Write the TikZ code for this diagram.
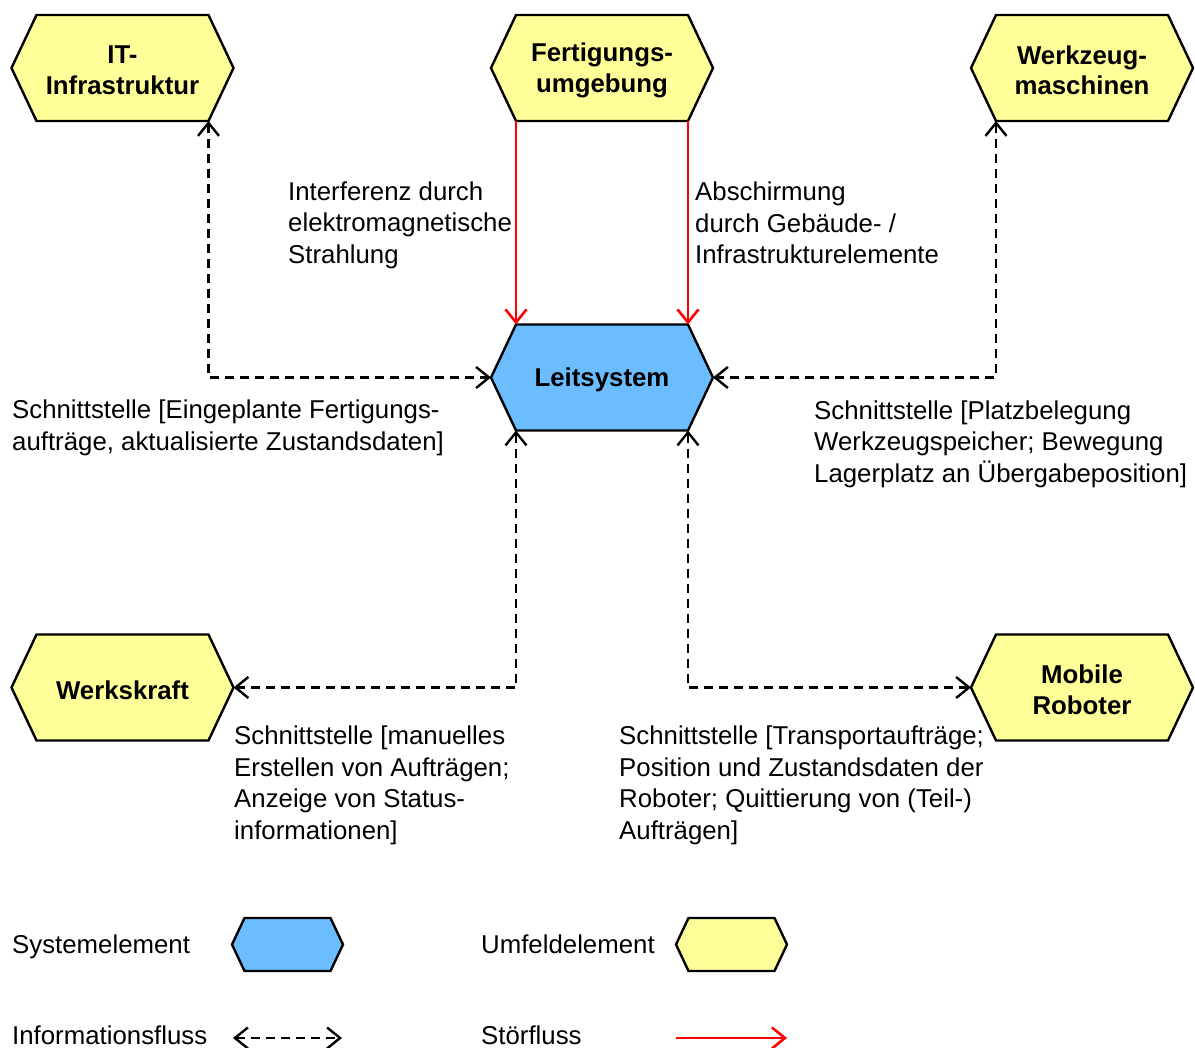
\documentclass[tikz,border=0pt]{standalone}
\usepackage{fontspec}
\setmainfont{Liberation Sans}
\usetikzlibrary{arrows.meta,calc}

\definecolor{sysblue}{RGB}{107,189,255}
\definecolor{envyellow}{RGB}{255,255,153}
\definecolor{flowred}{RGB}{255,0,0}

\tikzset{
  txt/.style={anchor=west, align=left, inner sep=0pt,
    font=\fontsize{25.8}{31.6}\selectfont},
  hexlabel/.style={align=center, inner sep=0pt, yshift=-2.5pt,
    font=\bfseries\fontsize{25.8}{30.5}\selectfont},
  hexborder/.style={draw=black, line width=2.4pt, line join=miter},
  info/.style={draw=black, line width=2.4pt, dash pattern=on 9pt off 6pt,
    {Straight Barb[length=13pt,width=21pt]}-{Straight Barb[length=13pt,width=21pt]}},
  stoer/.style={draw=flowred, line width=2.6pt,
    -{Straight Barb[length=13pt,width=21pt]}},
}

% hexagonal element: name, centre, half width, half height, inset, fill, label
\newcommand\hexelement[7]{%
  \coordinate (#1-w)  at ($(#2)+(-#3,0)$);
  \coordinate (#1-e)  at ($(#2)+(#3,0)$);
  \coordinate (#1-nw) at ($(#2)+(-#3+#5,-#4)$);
  \coordinate (#1-ne) at ($(#2)+(#3-#5,-#4)$);
  \coordinate (#1-sw) at ($(#2)+(-#3+#5,#4)$);
  \coordinate (#1-se) at ($(#2)+(#3-#5,#4)$);
  \draw[hexborder, fill=#6] (#1-nw) -- (#1-ne) -- (#1-e) -- (#1-se)
    -- (#1-sw) -- (#1-w) -- cycle;
  \node[hexlabel] (#1) at (#2) {#7};
}

\begin{document}
\begin{tikzpicture}[x=1pt, y=-1pt]
\useasboundingbox (0,0) rectangle (1195,1048);

% elements
\hexelement{IT}{122.5,68}{111}{53}{25}{envyellow}{IT-\\Infrastruktur}
\hexelement{FU}{602,68}{111}{53}{25}{envyellow}{Fertigungs-\\umgebung}
\hexelement{WZ}{1082,68}{111}{53}{25}{envyellow}{Werkzeug-\\maschinen}
\hexelement{LS}{602,377.5}{111}{53}{25}{sysblue}{Leitsystem}
\hexelement{WK}{122.5,687.5}{111}{53}{25}{envyellow}{Werkskraft}
\hexelement{MR}{1082,687.5}{111}{53}{25}{envyellow}{Mobile\\Roboter}

% information flows
\draw[info] (IT-se) |- (LS-w);
\draw[info] (WZ-sw) |- (LS-e);
\draw[info] (LS-sw) |- (WK-e);
\draw[info] (LS-se) |- (MR-w);

% disturbances
\draw[stoer] (FU-sw) -- (LS-nw);
\draw[stoer] (FU-se) -- (LS-ne);

% labels
\node[txt] (t1) at (288,225) {Interferenz durch\\elektromagnetische\\Strahlung};
\node[txt] (t2) at (695,223) {Abschirmung\\durch Gebäude- /\\Infrastrukturelemente};
\node[txt] (t3) at (12,428) {Schnittstelle [Eingeplante Fertigungs-\\aufträge, aktualisierte Zustandsdaten]};
\node[txt] (t4) at (814,444) {Schnittstelle [Platzbelegung\\Werkzeugspeicher; Bewegung\\Lagerplatz an Übergabeposition]};
\node[txt] (t5) at (234,785.5) {Schnittstelle [manuelles\\Erstellen von Aufträgen;\\Anzeige von Status-\\informationen]};
\node[txt] (t6) at (619,785.5) {Schnittstelle [Transportaufträge;\\Position und Zustandsdaten der\\Roboter; Quittierung von (Teil-)\\Aufträgen]};

% legend
\node[txt] (l1) at (12,947) {Systemelement};
\hexelement{LB}{287.5,944.5}{55.5}{26.5}{12.5}{sysblue}{}
\node[txt] (l2) at (481,944) {Umfeldelement};
\hexelement{LY}{731.5,944.5}{55.5}{26.5}{12.5}{envyellow}{}
\node[txt, anchor=base west] (l3) at (12,1044) {Informationsfluss};
\coordinate (inf-a) at (233,1038);
\coordinate (inf-b) at (342,1038);
\draw[info] (inf-a) -- (inf-b);
\node[txt, anchor=base west] (l4) at (481,1044) {Störfluss};
\coordinate (st-a) at (676,1038);
\coordinate (st-b) at (787,1038);
\draw[stoer] (st-a) -- (st-b);
\end{tikzpicture}
\end{document}
